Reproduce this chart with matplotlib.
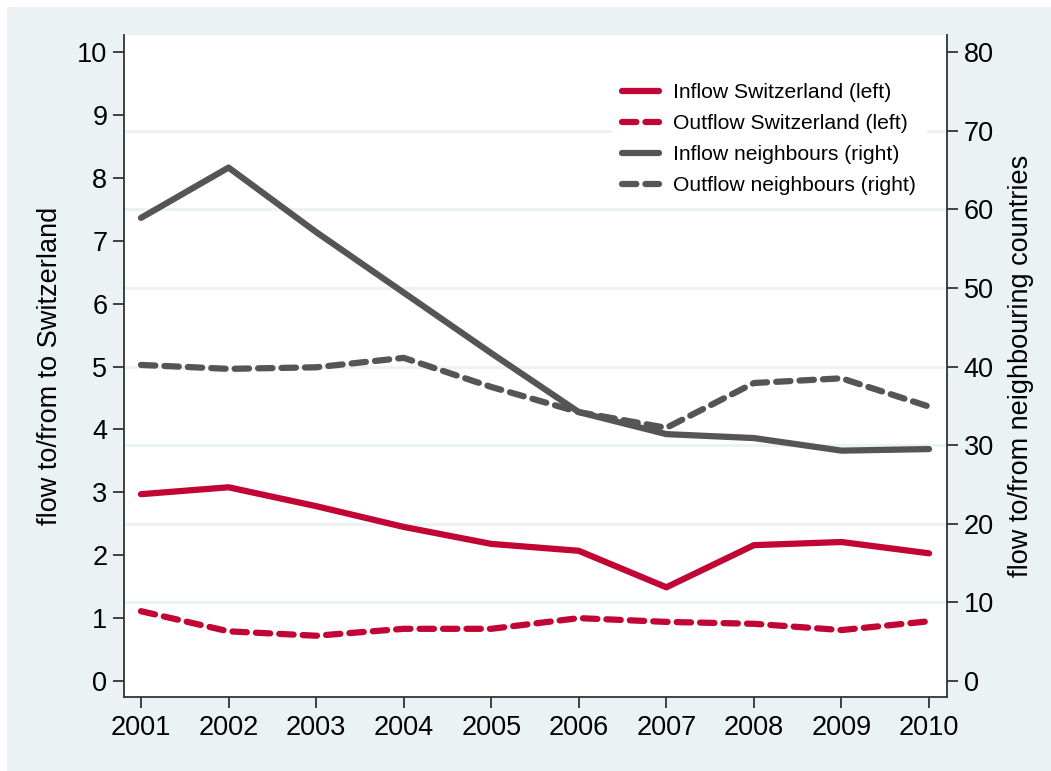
import matplotlib
matplotlib.use("Agg")
import matplotlib.pyplot as plt
from matplotlib.patches import Rectangle

plt.rcParams["font.family"] = ["Liberation Sans", "DejaVu Sans"]

years = [2001, 2002, 2003, 2004, 2005, 2006, 2007, 2008, 2009, 2010]
inflow_ch = [2.97, 3.08, 2.78, 2.45, 2.18, 2.07, 1.49, 2.16, 2.21, 2.03]
outflow_ch = [1.11, 0.79, 0.72, 0.83, 0.83, 1.00, 0.94, 0.91, 0.81, 0.95]
inflow_nb = [58.9, 65.3, 57.1, 49.4, 41.7, 34.2, 31.4, 30.9, 29.3, 29.5]
outflow_nb = [40.2, 39.7, 39.9, 41.1, 37.4, 34.2, 32.2, 37.9, 38.5, 34.9]

left_ticks = list(range(0, 11))
right_ticks = list(range(0, 81, 10))
grid_vals = list(range(10, 71, 10))

RED = "#C10534"
GRAY = "#555555"
BG = "#EAF2F3"
SPINE = "#333333"

fig = plt.figure(figsize=(10.51, 7.71), dpi=100)
fig.patch.set_facecolor("white")
fig.patches.append(Rectangle((7 / 1051, 0), 1, 1 - 7 / 771, transform=fig.transFigure,
                             facecolor=BG, edgecolor="none", zorder=-10))

ax = fig.add_axes([124 / 1051, 1 - 697 / 771, (947 - 124) / 1051, (697 - 35) / 771])
ax2 = ax.twinx()

ratio = 8.0
ylim_left = (-0.254, 10.27)
ax.set_ylim(*ylim_left)
ax2.set_ylim(ylim_left[0] * ratio, ylim_left[1] * ratio)
ax.set_xlim(2000.806, 2010.205)

ax.set_facecolor("white")
ax2.patch.set_visible(False)

# horizontal grid at the right-axis ticks
for g in grid_vals:
    ax.axhline(g / ratio, color=BG, lw=2.0, zorder=0)

lw = 4.5
dash = (2.3, 1.45)
l1, = ax.plot(years, inflow_ch, color=RED, lw=lw, solid_capstyle="round",
              solid_joinstyle="round", label="Inflow Switzerland (left)", zorder=3)
l2, = ax.plot(years, outflow_ch, color=RED, lw=lw, ls=(0, dash), dash_capstyle="round",
              label="Outflow Switzerland (left)", zorder=3)
l3, = ax2.plot(years, inflow_nb, color=GRAY, lw=lw, solid_capstyle="round",
               solid_joinstyle="round", label="Inflow neighbours (right)", zorder=3)
l4, = ax2.plot(years, outflow_nb, color=GRAY, lw=lw, ls=(0, dash), dash_capstyle="round",
               label="Outflow neighbours (right)", zorder=3)

for a in (ax, ax2):
    a.spines["top"].set_visible(False)
    for s in ("left", "right", "bottom"):
        a.spines[s].set_color(SPINE)
        a.spines[s].set_linewidth(1.3)
    a.tick_params(axis="both", direction="out", length=8, width=1.3, color=SPINE,
                  labelsize=19.5, pad=4)

ax.spines["right"].set_visible(False)
ax2.spines["left"].set_visible(False)
ax2.spines["bottom"].set_visible(False)

ax.set_xticks(years)
ax.set_xticklabels([str(y) for y in years])
ax.tick_params(axis="x", pad=5)
ax.set_yticks(left_ticks)
ax2.set_yticks(right_ticks)

ax.set_ylabel("flow to/from to Switzerland", fontsize=19.5, labelpad=10)
ax2.set_ylabel("flow to/from neighbouring countries", fontsize=19.5, labelpad=10)

leg = ax2.legend(handles=[l1, l2, l3, l4], loc="upper right",
                 bbox_to_anchor=(0.988, 0.959), frameon=True, fancybox=False,
                 fontsize=15.2, handlelength=1.75, handletextpad=0.65,
                 labelspacing=0.57, borderpad=0.5)
leg.get_frame().set_facecolor("white")
leg.get_frame().set_edgecolor("none")
leg.get_frame().set_alpha(1)
leg.set_zorder(5)

fig.savefig("out.png", dpi=100, facecolor=fig.get_facecolor())
